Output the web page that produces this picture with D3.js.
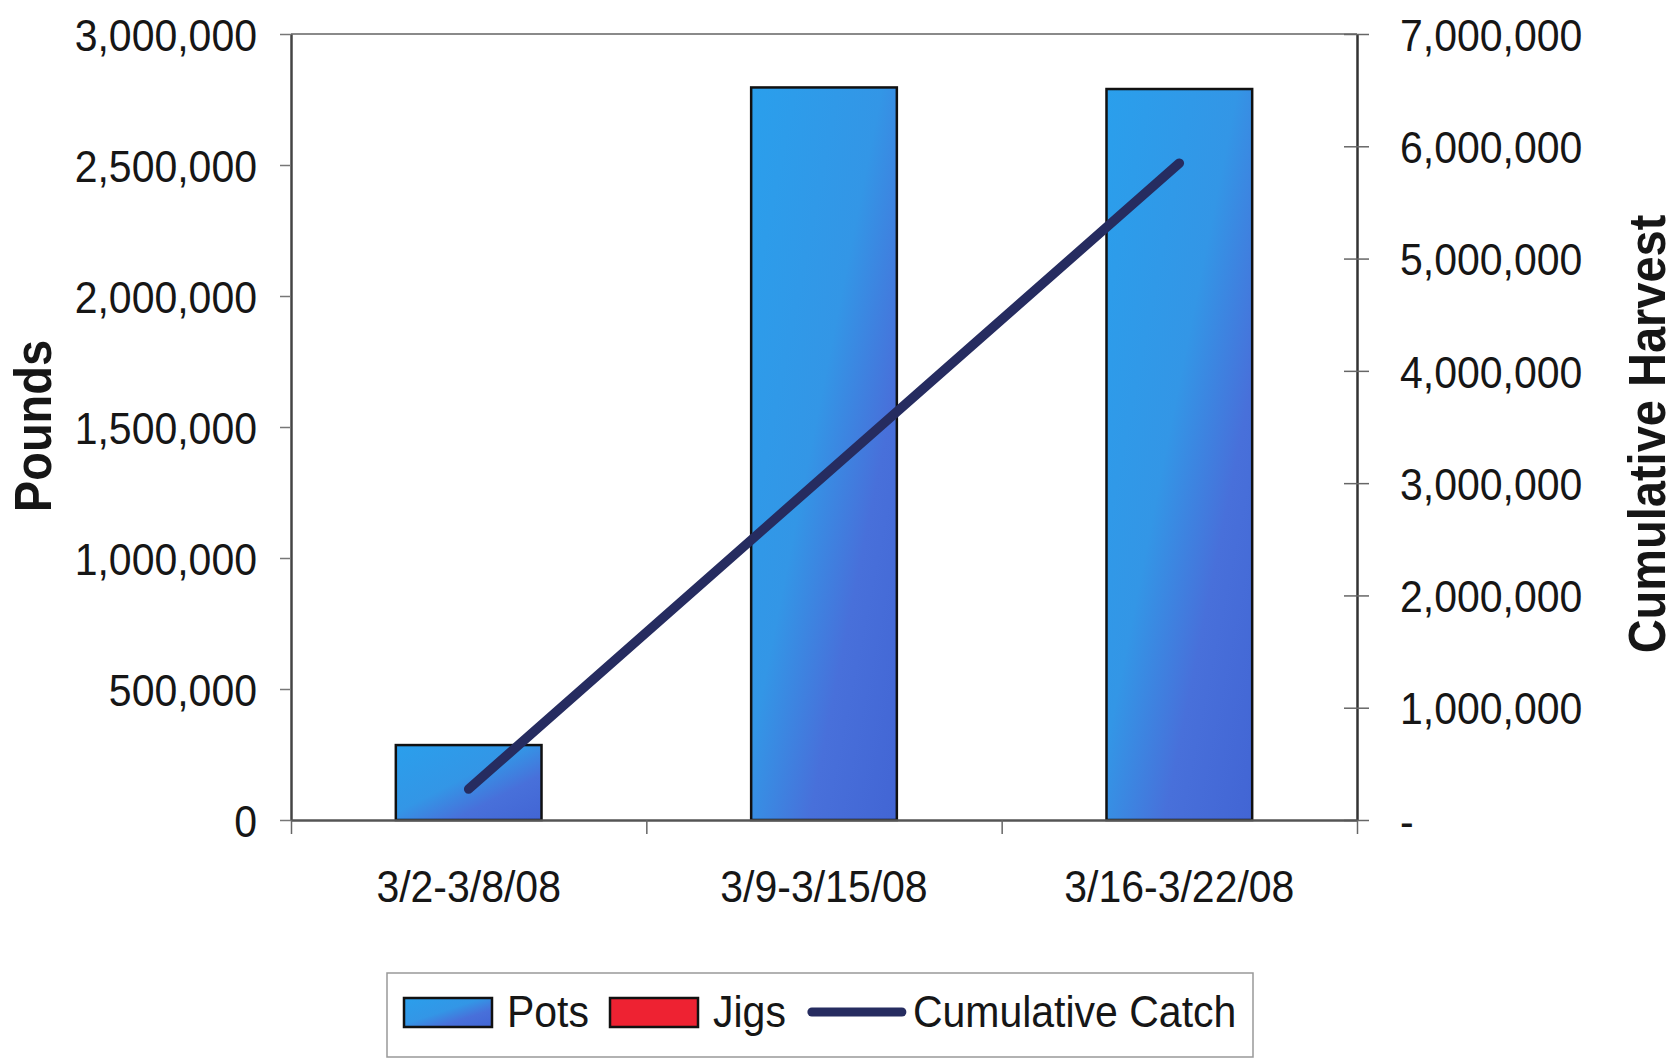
<!DOCTYPE html>
<html>
<head>
<meta charset="utf-8">
<script src="https://cdn.jsdelivr.net/npm/d3@7"></script>
<style>
    body { margin: 0; background: #fff; }
    svg text { font-family: "Liberation Sans", Arial, sans-serif; fill: #161616; }
</style>
</head>
<body>
<div id="chart"></div>
<script>

const weeks = ['3/2-3/8/08', '3/9-3/15/08', '3/16-3/22/08'];
const pots = [286000, 2796000, 2790000];
const jigs = [0, 0, 0];
const cumulativeCatch = [276000, 3065000, 5850000];

const poundsTicks = [0, 500000, 1000000, 1500000, 2000000, 2500000, 3000000];
const harvestTicks = [0, 1000000, 2000000, 3000000, 4000000, 5000000, 6000000, 7000000];
const seriesNames = ['Pots', 'Jigs', 'Cumulative Catch'];

const config = {
    "width": 1677,
    "height": 1060,
    "left": 291,
    "right": 1357,
    "top": 34,
    "bottom": 820,
    "fontSize": 41,
    "titleSize": 47,
    "stretch": 1.1,
    "lineColor": "#262c60",
    "jigColor": "#ee2232"
};

// scanned chart text is a bit taller than it is wide
function stretchText(sel) {
    sel.each(function() {
        let t = d3.select(this);
        let tx = +t.attr('x') || 0, ty = +t.attr('y') || 0;
        t.attr('x', 0).attr('y', 0).attr('dy', '0.36em')
            .attr('font-size', config.fontSize)
            .attr('transform', `translate(${tx},${ty}) scale(1,${config.stretch})`);
    });
}

drawChart('#chart');

function drawChart(selector) {
    let svg = d3.select(selector).append('svg')
        .attr('width', config.width)
        .attr('height', config.height);

    let grad = svg.append('defs').append('linearGradient')
        .attr('id', 'potsFill')
        .attr('x1', 0).attr('y1', 0).attr('x2', 1).attr('y2', 1);
    [[0, '#2a9fec'], [0.45, '#3396e6'], [0.7, '#4870da'], [1, '#4265d4']].forEach(s => {
        grad.append('stop').attr('offset', s[0]).attr('stop-color', s[1]);
    });

    let x = d3.scaleBand()
        .domain(weeks)
        .range([config.left, config.right])
        .paddingInner(0.59)
        .paddingOuter(0.295);

    // category boundaries for the x tick marks
    let xEdge = d3.scaleLinear()
        .domain([0, weeks.length])
        .range([config.left, config.right]);

    let yLeft = d3.scaleLinear()
        .domain([0, 3000000])
        .range([config.bottom, config.top]);

    let yRight = d3.scaleLinear()
        .domain([0, 7000000])
        .range([config.bottom, config.top]);

    // top edge of plot area
    svg.append('line')
        .attr('x1', config.left).attr('x2', config.right)
        .attr('y1', config.top).attr('y2', config.top)
        .attr('stroke', '#8a8a8a').attr('stroke-width', 2);

    // Pots bars
    svg.append('g').selectAll('.pots')
        .data(pots)
        .join('rect')
        .attr('class', 'pots')
        .attr('x', (d, i) => x(weeks[i]))
        .attr('y', d => yLeft(d))
        .attr('width', x.bandwidth())
        .attr('height', d => yLeft(0) - yLeft(d))
        .attr('fill', 'url(#potsFill)')
        .attr('stroke', '#111')
        .attr('stroke-width', 2.5);

    // Jigs stacked on top (all zero this period)
    svg.append('g').selectAll('.jigs')
        .data(jigs.map((d, i) => ({v: d, base: pots[i], i: i})).filter(d => d.v > 0))
        .join('rect')
        .attr('class', 'jigs')
        .attr('x', d => x(weeks[d.i]))
        .attr('y', d => yLeft(d.base + d.v))
        .attr('width', x.bandwidth())
        .attr('height', d => yLeft(d.base) - yLeft(d.base + d.v))
        .attr('fill', config.jigColor)
        .attr('stroke', '#111');

    // left axis
    let leftAxis = svg.append('g')
        .attr('transform', `translate(${config.left},0)`)
        .call(d3.axisLeft(yLeft)
            .tickValues(poundsTicks)
            .tickFormat(d3.format(','))
            .tickSizeInner(11)
            .tickSizeOuter(0)
            .tickPadding(23));
    leftAxis.select('.domain').attr('stroke', '#444').attr('stroke-width', 2.5);
    leftAxis.selectAll('.tick line').attr('stroke', '#777').attr('stroke-width', 1.5);
    leftAxis.selectAll('.tick text').call(stretchText);

    // right axis
    let rightAxis = svg.append('g')
        .attr('transform', `translate(${config.right},0)`)
        .call(d3.axisRight(yRight)
            .tickValues(harvestTicks)
            .tickFormat(d => d === 0 ? '-' : d3.format(',')(d))
            .tickSizeInner(12)
            .tickSizeOuter(0)
            .tickPadding(31));
    rightAxis.select('.domain').attr('stroke', '#333').attr('stroke-width', 2.5);
    rightAxis.selectAll('.tick line').attr('x1', -13).attr('stroke', '#666').attr('stroke-width', 1.5);
    rightAxis.selectAll('.tick text').call(stretchText);

    // bottom axis: boundary ticks + category labels
    let edgeAxis = svg.append('g')
        .attr('transform', `translate(0,${config.bottom})`)
        .call(d3.axisBottom(xEdge)
            .ticks(weeks.length)
            .tickFormat('')
            .tickSizeInner(14)
            .tickSizeOuter(0));
    edgeAxis.select('.domain').attr('stroke', '#555').attr('stroke-width', 2.5);
    edgeAxis.selectAll('.tick line').attr('stroke', '#666').attr('stroke-width', 1.5);

    let labelAxis = svg.append('g')
        .attr('transform', `translate(0,${config.bottom})`)
        .call(d3.axisBottom(x).tickSize(0).tickPadding(66));
    labelAxis.select('.domain').remove();
    labelAxis.selectAll('.tick text').call(stretchText);

    // cumulative catch line
    let line = d3.line()
        .x((d, i) => x(weeks[i]) + x.bandwidth() / 2)
        .y(d => yRight(d));

    svg.append('path')
        .datum(cumulativeCatch)
        .attr('d', line)
        .attr('fill', 'none')
        .attr('stroke', config.lineColor)
        .attr('stroke-width', 9.5)
        .attr('stroke-linecap', 'round');

    // axis titles
    svg.append('text')
        .attr('transform', `translate(51,426) rotate(-90) scale(1,${config.stretch})`)
        .attr('text-anchor', 'middle')
        .attr('font-size', config.titleSize)
        .attr('font-weight', 'bold')
        .text('Pounds');

    svg.append('text')
        .attr('transform', `translate(1665,434) rotate(-90) scale(1,${config.stretch})`)
        .attr('text-anchor', 'middle')
        .attr('font-size', config.titleSize)
        .attr('font-weight', 'bold')
        .text('Cumulative Harvest');

    // legend
    let legend = svg.append('g').attr('class', 'legend');
    legend.append('rect')
        .attr('x', 387).attr('y', 973)
        .attr('width', 866).attr('height', 84)
        .attr('fill', '#fff')
        .attr('stroke', '#999')
        .attr('stroke-width', 1.5);

    let lx = 404;
    seriesNames.forEach((name, i) => {
        let tx;
        if (i < 2) {
            legend.append('rect')
                .attr('x', lx).attr('y', 998)
                .attr('width', 88).attr('height', 29)
                .attr('fill', i === 0 ? 'url(#potsFill)' : config.jigColor)
                .attr('stroke', '#111')
                .attr('stroke-width', 2.5);
            tx = lx + 103;
        } else {
            legend.append('line')
                .attr('x1', lx + 5).attr('x2', lx + 95)
                .attr('y1', 1012).attr('y2', 1012)
                .attr('stroke', config.lineColor)
                .attr('stroke-width', 9)
                .attr('stroke-linecap', 'round');
            tx = lx + 106;
        }
        let t = legend.append('text')
            .attr('transform', `translate(${tx},1027) scale(1,${config.stretch})`)
            .attr('font-size', config.fontSize)
            .text(name);
        lx = tx + t.node().getComputedTextLength() + 21;
    });
}

</script>
</body>
</html>
